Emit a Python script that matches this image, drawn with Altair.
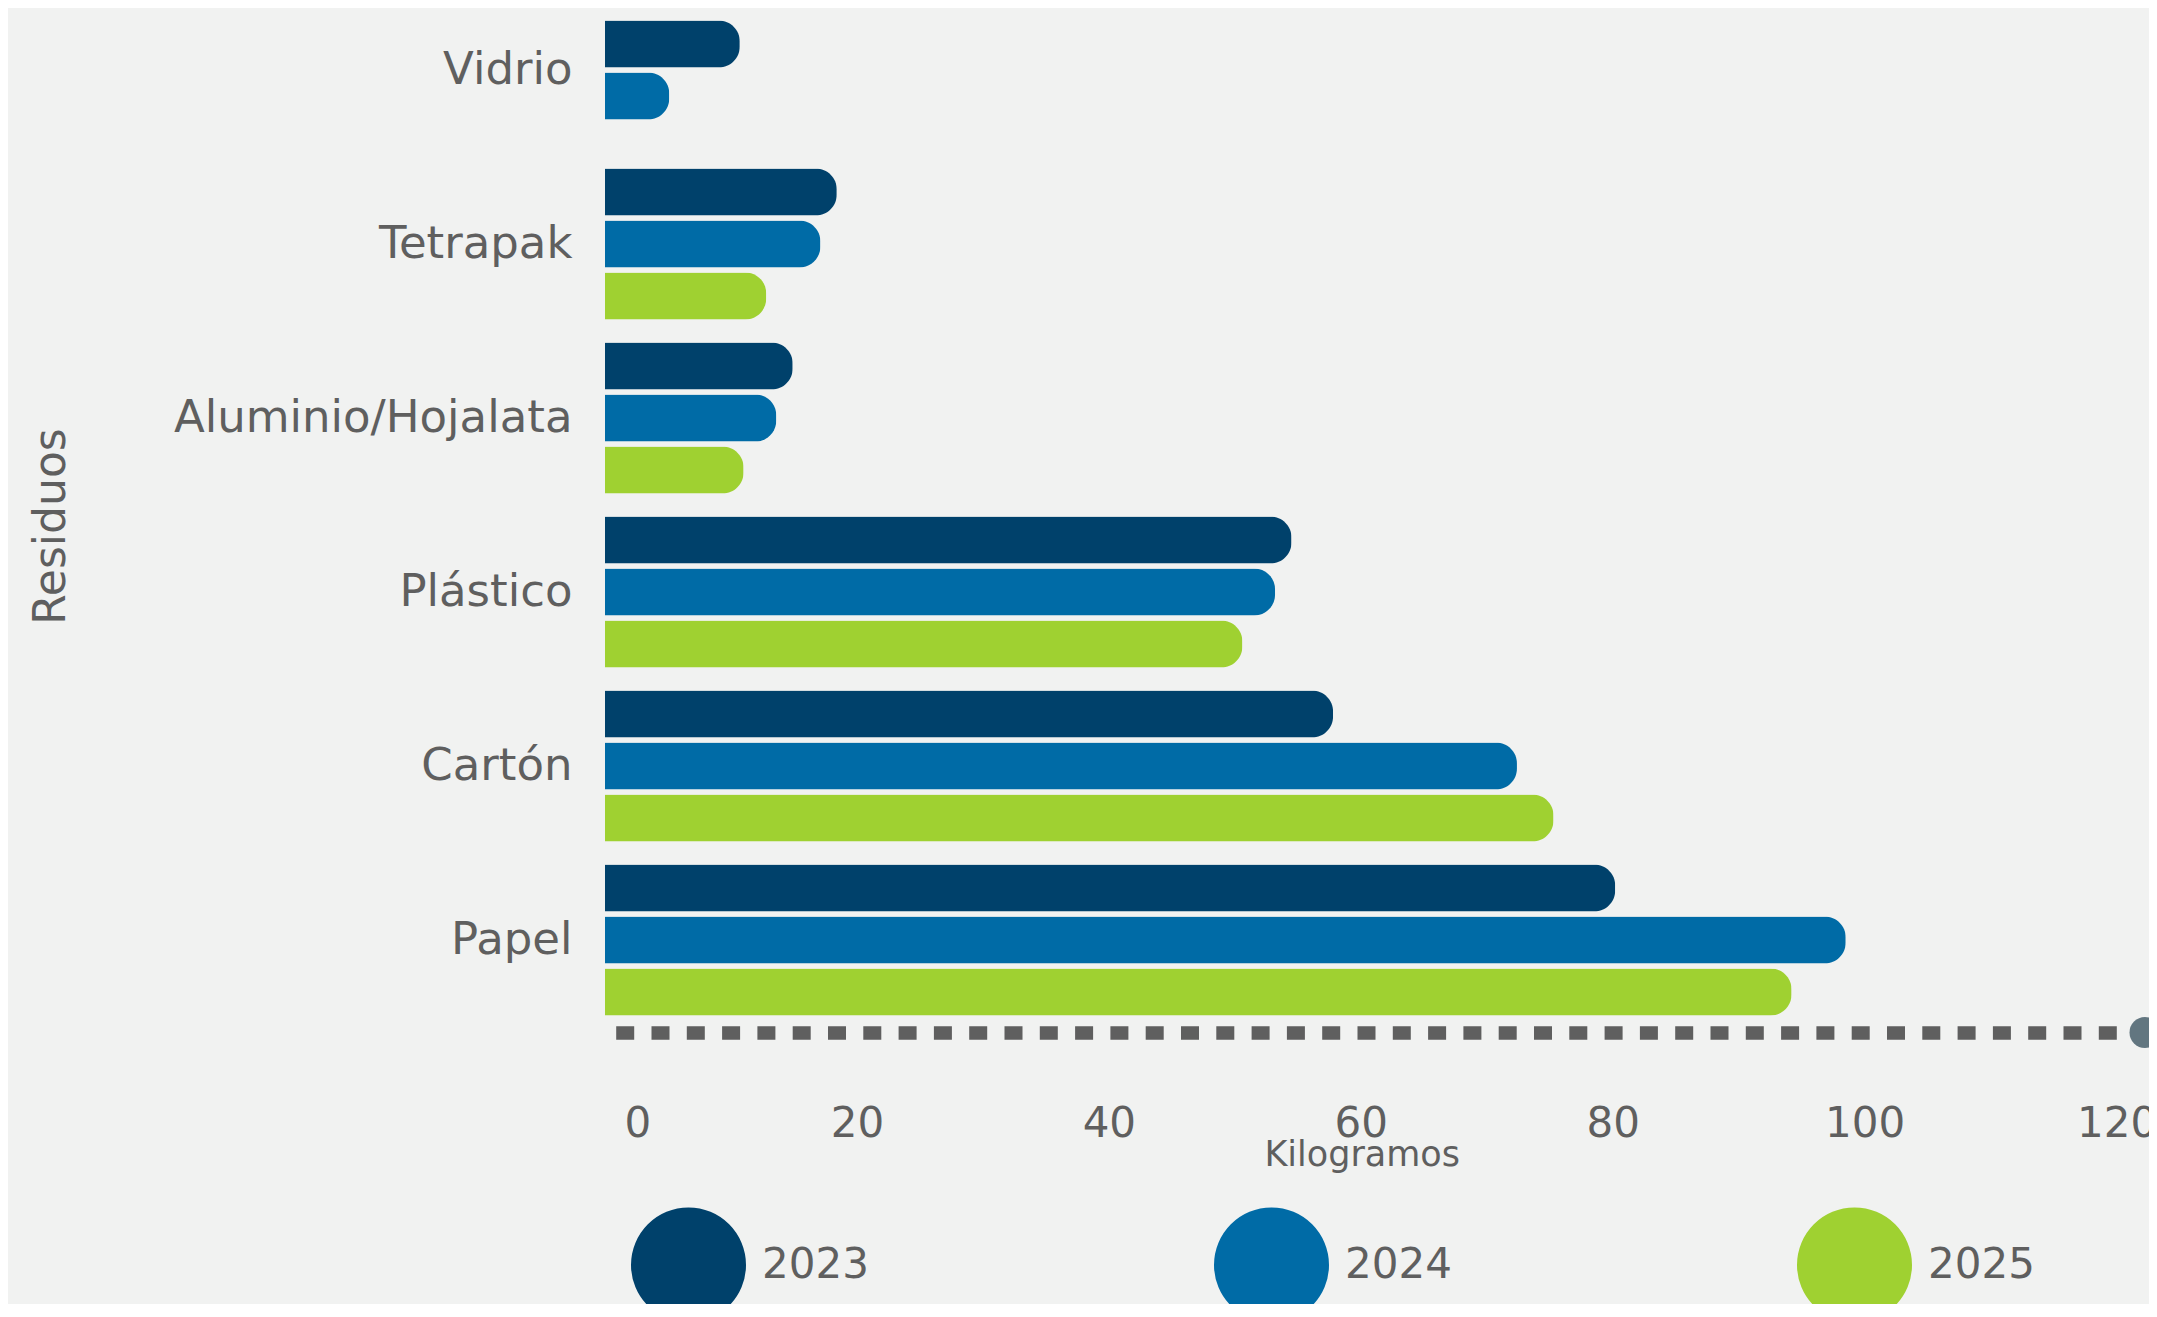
import altair as alt
import pandas as pd

# ---- data ----
categories = ["Vidrio", "Tetrapak", "Aluminio/Hojalata", "Plástico", "Cartón", "Papel"]
years = ["2023", "2024", "2025"]
kg_2023 = [10.7, 18.4, 14.9, 54.5, 57.8, 80.2]
kg_2024 = [5.1, 17.1, 13.6, 53.2, 72.4, 98.5]
kg_2025 = [None, 12.8, 11.0, 50.6, 75.3, 94.2]
year_colors = ["#00416b", "#006ba6", "#9fd131"]
x_tick_values = [0, 20, 40, 60, 80, 100, 120]
X_MAX = 122.26

FONT = "DejaVu Sans"
TEXT = "#5f5f5f"
BG = "#f1f2f1"

rows = []
for i, cat in enumerate(categories):
    for yr, vals in zip(years, [kg_2023, kg_2024, kg_2025]):
        if vals[i] is not None:
            rows.append({"Residuo": cat, "Año": yr, "Kg": vals[i]})
df = pd.DataFrame(rows)
counts = df.groupby("Residuo")["Año"].transform("count")
df_full = df[counts == 3]
df_short = df[counts < 3]

W = 1540
H = 1024.5

x_scale = alt.Scale(domain=[0, X_MAX], nice=False, zero=True)
y_scale = alt.Scale(domain=categories, range=[-13.5, 1007.5], paddingInner=0.132, paddingOuter=0)
color_scale = alt.Scale(domain=years, range=year_colors)

x_axis = alt.Axis(
    values=x_tick_values, title="Kilogramos", grid=False, ticks=False, tickSize=0,
    labelPadding=103.5, labelBaseline="alphabetic", labelFontSize=42, labelColor=TEXT,
    labelFont=FONT, labelFlush=True, labelFlushOffset=-19,
    domainDash=[18, 17.3], domainDashOffset=24.6, domainWidth=13.3, domainColor="#5f5f5f",
    titleX=756.7, titleY=133, titleBaseline="alphabetic", titleAlign="center",
    titleFontSize=35, titleFontWeight="normal", titleColor=TEXT, titleFont=FONT,
)
y_axis = alt.Axis(
    title="Residuos", ticks=False, tickSize=0, domain=False, labelPadding=33,
    labelFontSize=45, labelColor=TEXT, labelFont=FONT, labelLimit=700,
    titleX=-541, titleY=518, titleAngle=270, titleAlign="center", titleBaseline="alphabetic",
    titleFontSize=44, titleFontWeight="normal", titleColor=TEXT, titleFont=FONT,
)
legend = alt.Legend(
    orient="none", legendX=26, legendY=1199.5, direction="horizontal", title=None,
    symbolType="circle", symbolSize=13225, symbolStrokeWidth=0, symbolOpacity=1,
    labelFontSize=42, labelFont=FONT, labelColor=TEXT, labelOffset=16,
    columnPadding=345, padding=0, columns=3,
)

bars_full = alt.Chart(df_full).mark_bar(cornerRadiusEnd=21).encode(
    x=alt.X("Kg:Q", scale=x_scale, axis=x_axis),
    y=alt.Y("Residuo:N", scale=y_scale, axis=y_axis, sort=categories),
    yOffset=alt.YOffset("Año:N", scale=alt.Scale(domain=years, paddingInner=0.096, paddingOuter=0)),
    color=alt.Color("Año:N", scale=color_scale, legend=legend),
)

bars_short = alt.Chart(df_short).mark_bar(cornerRadiusEnd=21).encode(
    x=alt.X("Kg:Q", scale=x_scale, axis=x_axis),
    y=alt.Y("Residuo:N", scale=y_scale, axis=y_axis, sort=categories),
    yOffset=alt.YOffset("Año:N", scale=alt.Scale(domain=years[:2], paddingInner=0.096, paddingOuter=0.5)),
    color=alt.Color("Año:N", scale=color_scale, legend=legend),
)

end_dot = alt.Chart(pd.DataFrame({"k": [0]})).mark_circle(size=960, color="#627680", opacity=1).encode(
    x=alt.value(W), y=alt.value(H)
)

chart = alt.layer(bars_full, bars_short, end_dot).resolve_scale(
    yOffset="independent"
).properties(
    width=W, height=H,
    autosize=alt.AutoSizeParams(type="none"),
    padding={"left": 597, "top": 0, "right": 4, "bottom": 271.5},
).configure(
    font=FONT, background=BG
).configure_view(stroke=None)

chart.save("out.html", embed_options={"renderer": "svg", "actions": False})
